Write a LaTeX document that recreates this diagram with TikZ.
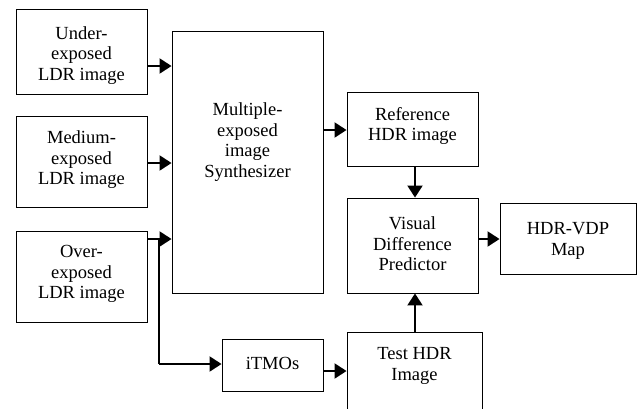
\documentclass[tikz,border=0pt]{standalone}
\usepackage{fontspec}
\setmainfont{Liberation Serif}
\usetikzlibrary{arrows.meta}
\begin{document}
\begin{tikzpicture}[x=1pt,y=-1pt,
  box/.style={draw,line width=0.9pt,inner sep=0pt,align=center,font=\fontsize{18.5}{20.5}\selectfont},
  txt/.style={inner sep=0pt,align=center,font=\fontsize{18.5}{20.5}\selectfont},
  arr/.style={line width=2pt,-{Triangle[length=12pt,width=15pt]}},
  conn/.style={line width=2pt}]
\useasboundingbox (0,0) rectangle (643,408);
\clip (0,0) rectangle (643,408);
% boxes
\node[box,minimum width=131,minimum height=85] (under) at (81.5,51.5) {};
\node[txt] (undert) at (81.5,55.5) {Under-\\exposed\\LDR image};
\node[box,minimum width=131,minimum height=91] (medium) at (81.5,161.5) {};
\node[txt] (mediumt) at (81.5,160) {Medium-\\exposed\\LDR image};
\node[box,minimum width=131,minimum height=91] (over) at (81.5,276.5) {};
\node[txt] (overt) at (81.5,274) {Over-\\exposed\\LDR image};
\node[box,minimum width=151,minimum height=262] (synth) at (247.5,162) {};
\node[txt] (syntht) at (247.5,142) {Multiple-\\exposed\\image\\Synthesizer};
\node[box,minimum width=131,minimum height=74] (ref) at (412.5,129) {};
\node[txt] (reft) at (412.5,126) {Reference\\HDR image};
\node[box,minimum width=131,minimum height=95] (vdp) at (412.5,245.5) {};
\node[txt] (vdpt) at (412.5,244) {Visual\\Difference\\Predictor};
\node[box,minimum width=136,minimum height=71] (map) at (568,238.5) {};
\node[txt] (mapt) at (568,241) {HDR-VDP\\Map};
\node[box,minimum width=101,minimum height=52] (itmo) at (272.5,365) {};
\node[txt] (itmot) at (272.5,363) {iTMOs};
\node[box,minimum width=135,minimum height=90] (test) at (414.5,377) {};
\node[txt] (testt) at (414.5,366) {Test HDR\\Image};
% connectors
\draw[arr] (under.east |- 0,66) -- (synth.west |- 0,66);
\draw[arr] (medium.east |- 0,163) -- (synth.west |- 0,163);
\coordinate (br) at (159,239);
\coordinate (bd) at (159,364);
\draw[arr] (over.east |- br) -- (synth.west |- br);
\draw[conn] (br) -- (bd);
\draw[arr] (bd) -- (itmo.west |- bd);
\draw[arr] (synth.east |- 0,130) -- (ref.west |- 0,130);
\draw[arr] (ref.south -| 415,0) -- (vdp.north -| 415,0);
\draw[arr] (test.north -| 415,0) -- (vdp.south -| 415,0);
\draw[arr] (vdp.east |- 0,239) -- (map.west |- 0,239);
\draw[arr] (itmo.east |- 0,371) -- (test.west |- 0,371);
\end{tikzpicture}
\end{document}
